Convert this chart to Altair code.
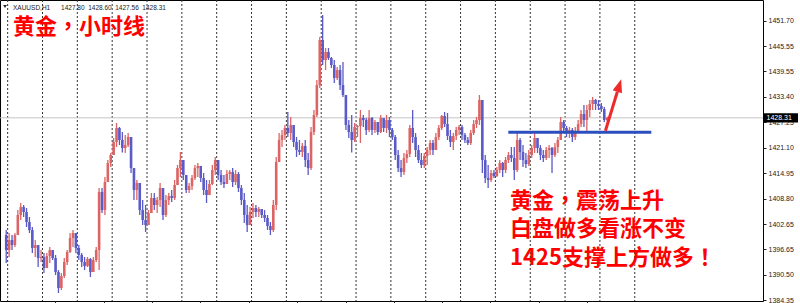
import altair as alt
import pandas as pd

# ---------------- data ----------------
symbol = "XAUUSD,H1"
first_bar = -1
first_open = 1400.09

highs = [
    1401.30, 1400.58, 1400.09, 1400.58, 1406.11, 1407.80, 1407.32, 1406.59, 1404.43, 1402.02,
    1398.89, 1396.48, 1396.48, 1395.76, 1395.76, 1397.20, 1396.48, 1395.28, 1391.66, 1390.94,
    1394.55, 1396.48, 1400.58, 1401.30, 1400.58, 1397.68, 1395.76, 1394.80, 1394.80, 1394.55,
    1394.80, 1397.20, 1411.41, 1411.41, 1414.06, 1418.15, 1419.84, 1423.45, 1427.06, 1426.10,
    1424.89, 1424.17, 1424.65, 1423.69, 1416.22, 1413.34, 1412.13, 1408.52, 1407.32, 1406.11,
    1410.21, 1410.21, 1409.24, 1412.62, 1411.41, 1409.72, 1410.21, 1410.93, 1413.34, 1416.95,
    1420.08, 1418.15, 1414.54, 1412.62, 1414.54, 1416.95, 1417.43, 1416.47, 1415.02, 1413.34,
    1413.34, 1416.95, 1418.88, 1417.67, 1415.74, 1414.54, 1415.74, 1415.74, 1416.22, 1415.74,
    1415.26, 1412.13, 1410.21, 1407.32, 1406.84, 1407.80, 1407.32, 1406.84, 1406.35, 1406.11,
    1404.91, 1403.22, 1408.52, 1418.88, 1424.65, 1425.38, 1426.58, 1429.71, 1428.51, 1425.86,
    1423.69, 1422.97, 1422.25, 1422.97, 1419.84, 1426.10, 1430.19, 1437.42, 1447.77, 1453.07,
    1445.12, 1445.12, 1442.96, 1442.23, 1440.55, 1441.03, 1441.75, 1433.80, 1427.78, 1428.99,
    1427.06, 1426.58, 1430.19, 1428.99, 1428.27, 1430.19, 1428.51, 1427.78, 1427.30, 1428.99,
    1428.27, 1428.99, 1428.51, 1425.86, 1424.17, 1420.56, 1418.15, 1419.84, 1420.56, 1426.58,
    1430.19, 1424.65, 1421.76, 1419.84, 1419.84, 1421.28, 1422.97, 1422.97, 1424.65, 1426.58,
    1428.99, 1429.71, 1429.47, 1425.38, 1424.65, 1426.10, 1426.58, 1426.58, 1424.65, 1423.69,
    1425.38, 1427.78, 1428.51, 1433.80, 1432.60, 1419.36, 1416.95, 1415.74, 1415.74, 1416.47,
    1418.15, 1417.67, 1418.88, 1420.08, 1421.28, 1421.28, 1424.65, 1423.45, 1421.76, 1419.84,
    1420.56, 1421.76, 1424.65, 1423.45, 1421.76, 1420.56, 1421.28, 1421.76, 1421.28, 1422.25,
    1423.69, 1428.51, 1427.78, 1426.34, 1426.10, 1425.86, 1426.10, 1427.78, 1430.19, 1431.40,
    1431.40, 1432.60, 1433.32, 1432.84, 1432.60, 1431.88, 1430.91, 1428.60,
]
lows = [
    1393.35, 1394.80, 1396.48, 1397.20, 1400.09, 1403.70, 1404.43, 1402.02, 1400.58, 1395.76,
    1394.80, 1392.39, 1393.59, 1390.94, 1392.39, 1393.35, 1394.07, 1390.46, 1386.13, 1386.85,
    1389.74, 1392.87, 1395.76, 1397.20, 1395.76, 1394.07, 1392.39, 1391.66, 1392.39, 1389.98,
    1391.18, 1393.59, 1391.66, 1405.39, 1404.91, 1412.86, 1416.47, 1419.36, 1421.28, 1421.76,
    1419.96, 1419.84, 1421.28, 1415.02, 1408.52, 1408.52, 1404.91, 1402.50, 1400.82, 1402.50,
    1405.39, 1406.11, 1405.39, 1406.84, 1403.70, 1404.43, 1407.32, 1408.04, 1408.52, 1412.13,
    1414.06, 1413.34, 1410.21, 1410.21, 1410.93, 1413.34, 1414.06, 1412.86, 1409.72, 1407.80,
    1409.72, 1412.13, 1414.54, 1413.34, 1412.13, 1411.41, 1412.62, 1413.34, 1411.65, 1412.13,
    1410.45, 1407.32, 1402.98, 1400.82, 1402.50, 1404.19, 1404.43, 1404.43, 1404.19, 1403.22,
    1401.30, 1400.09, 1400.82, 1406.11, 1417.67, 1421.28, 1422.97, 1423.69, 1422.97, 1421.28,
    1418.88, 1419.36, 1418.88, 1416.47, 1414.54, 1415.74, 1424.17, 1428.51, 1435.49, 1441.03,
    1439.82, 1442.23, 1440.30, 1436.69, 1437.42, 1435.01, 1433.32, 1425.38, 1423.45, 1419.96,
    1422.49, 1423.69, 1422.25, 1426.10, 1424.17, 1424.89, 1424.17, 1424.65, 1424.17, 1424.65,
    1424.89, 1424.65, 1423.69, 1422.97, 1418.15, 1415.26, 1414.06, 1414.54, 1417.43, 1418.88,
    1422.25, 1418.88, 1417.43, 1416.22, 1416.22, 1416.95, 1419.36, 1419.36, 1420.56, 1422.97,
    1425.38, 1426.10, 1422.97, 1421.28, 1420.56, 1422.97, 1424.17, 1422.97, 1422.25, 1421.76,
    1421.76, 1424.17, 1425.86, 1426.58, 1415.02, 1412.62, 1411.41, 1412.86, 1413.82, 1414.06,
    1415.02, 1414.06, 1415.02, 1417.43, 1417.67, 1413.34, 1415.26, 1418.15, 1416.47, 1416.22,
    1416.71, 1418.63, 1419.84, 1419.84, 1418.15, 1417.67, 1418.15, 1418.63, 1415.02, 1418.88,
    1419.84, 1422.97, 1424.65, 1423.69, 1423.45, 1422.49, 1422.97, 1424.65, 1426.10, 1426.10,
    1424.65, 1428.51, 1430.19, 1430.19, 1430.19, 1429.71, 1427.30, 1427.56,
]
closes = [
    1396.48, 1398.89, 1397.68, 1400.09, 1404.91, 1406.84, 1405.63, 1403.22, 1401.30, 1396.96,
    1397.68, 1394.55, 1394.80, 1392.14, 1395.04, 1396.48, 1394.55, 1391.18, 1387.33, 1390.22,
    1393.59, 1396.00, 1399.37, 1400.58, 1396.96, 1395.28, 1393.59, 1392.63, 1394.31, 1391.18,
    1394.07, 1396.48, 1410.45, 1406.11, 1412.86, 1417.43, 1419.36, 1422.49, 1425.86, 1422.97,
    1421.04, 1421.76, 1423.69, 1416.22, 1410.93, 1412.62, 1406.11, 1403.70, 1402.50, 1405.39,
    1409.00, 1407.32, 1408.52, 1411.41, 1404.91, 1408.52, 1409.48, 1409.00, 1412.13, 1416.22,
    1418.15, 1414.54, 1410.93, 1411.89, 1413.82, 1416.22, 1416.71, 1413.82, 1410.93, 1409.72,
    1412.38, 1415.74, 1418.15, 1414.54, 1412.86, 1412.38, 1414.78, 1415.26, 1412.86, 1414.78,
    1411.41, 1408.52, 1404.91, 1402.50, 1405.63, 1406.59, 1405.63, 1406.35, 1404.91, 1404.19,
    1402.26, 1401.30, 1407.32, 1417.67, 1422.97, 1424.17, 1425.86, 1424.65, 1426.58, 1422.49,
    1420.56, 1420.08, 1421.52, 1418.15, 1416.22, 1424.89, 1428.99, 1436.21, 1447.05, 1442.23,
    1444.16, 1442.71, 1441.03, 1437.90, 1439.82, 1436.21, 1433.80, 1426.58, 1424.89, 1422.97,
    1426.10, 1426.34, 1428.27, 1427.78, 1425.38, 1428.27, 1425.38, 1427.30, 1424.89, 1428.27,
    1425.86, 1427.78, 1425.38, 1423.69, 1419.36, 1416.22, 1415.26, 1418.63, 1419.60, 1425.86,
    1423.69, 1420.56, 1418.15, 1416.95, 1419.12, 1420.56, 1422.25, 1420.56, 1423.69, 1425.86,
    1428.75, 1426.82, 1423.93, 1422.49, 1423.93, 1425.38, 1426.10, 1424.17, 1422.97, 1422.25,
    1424.65, 1426.82, 1427.78, 1432.60, 1418.15, 1413.82, 1413.34, 1415.02, 1414.30, 1415.74,
    1417.43, 1415.74, 1418.15, 1419.36, 1418.63, 1415.74, 1422.97, 1420.08, 1418.15, 1417.19,
    1419.36, 1421.04, 1423.45, 1421.04, 1419.36, 1418.63, 1420.56, 1421.04, 1419.36, 1421.28,
    1422.97, 1427.30, 1425.86, 1424.65, 1425.38, 1423.69, 1425.14, 1426.82, 1429.23, 1427.78,
    1430.19, 1431.64, 1432.60, 1431.64, 1431.16, 1430.43, 1427.80, 1428.31,
]

day_separators = [-0.5, 11.5, 23.5, 35.5, 47.5, 59.5, 71.5, 83.5, 95.5, 107.5,
                  119.5, 131.5, 143.5, 155.5, 167.5, 179.5, 191.5, 203.5, 215.5]
time_ticks = [15.9, 32.6, 49.2, 65.9, 82.5, 99.2, 115.9, 132.5, 149.2, 165.8, 182.5, 199.1]
price_ticks = [1451.70, 1445.55, 1439.55, 1433.40, 1427.25, 1421.10,
               1414.95, 1408.80, 1402.65, 1396.65, 1390.50, 1384.35]

support_price = 1424.82
support_from, support_to = 171.95, 221.2
arrow_tail = (205.4, 1425.2)
arrow_base = (209.5, 1434.6)
arrow_head = (210.16, 1436.09)

title_text = "黄金，小时线"
note_lines = ["黄金，震荡上升", "白盘做多看涨不变", "1425支撑上方做多！"]

# ---------------- build ----------------
opens = [first_open] + closes[:-1]
idx = list(range(first_bar, first_bar + len(closes)))
df = pd.DataFrame({"i": idx, "open": opens, "high": highs, "low": lows, "close": closes})
last_price = closes[-1]

UP = "#dc6464"
DOWN = "#5a5ac8"
RED = "#ff0000"
ARROW = "#ee2b2b"
CJK = "Noto Sans CJK TC"

xscale = alt.Scale(domain=[-1.418, 257.95], nice=False, zero=False)
yscale = alt.Scale(domain=[1384.21, 1456.68], nice=False, zero=False)
xaxis = alt.Axis(orient="bottom", values=time_ticks, labels=False, tickSize=2,
                 domain=False, grid=False, title=None, tickColor="#333")
yaxis = alt.Axis(orient="right", values=price_ticks, format=".2f", labelFont="Liberation Sans",
                 labelFontSize=7, labelColor="#222", tickSize=3, tickColor="#222",
                 labelPadding=2, domain=False, grid=False, title=None, labelOverlap=False)


def X(f):
    return alt.X(f, type="quantitative", scale=xscale, axis=xaxis)


def Y(f):
    return alt.Y(f, type="quantitative", scale=yscale, axis=yaxis)


color = alt.condition("datum.close >= datum.open", alt.value(UP), alt.value(DOWN))

sep = alt.Chart(pd.DataFrame({"i": day_separators})).mark_rule(
    color="#333", strokeDash=[2, 2], strokeWidth=1).encode(x=X("i"))

price_line = alt.Chart(pd.DataFrame({"p": [last_price]})).mark_rule(
    color="#c4c4c4", strokeWidth=1).encode(y=Y("p"))

wicks = alt.Chart(df).mark_rule(strokeWidth=1.3).encode(
    x=X("i"), y=Y("low"), y2="high", color=color)
bodies = alt.Chart(df).mark_bar(size=2.6).encode(
    x=X("i"), y=Y("open"), y2="close", color=color)

support = alt.Chart(pd.DataFrame({"a": [support_from], "b": [support_to], "p": [support_price]})).mark_rule(
    color="#2b4fbf", strokeWidth=3).encode(x=X("a"), x2="b", y=Y("p"))

shaft = alt.Chart(pd.DataFrame({"x0": [arrow_tail[0]], "x1": [arrow_base[0]],
                                "y0": [arrow_tail[1]], "y1": [arrow_base[1]]})).mark_rule(
    color=ARROW, strokeWidth=3).encode(x=X("x0"), x2="x1", y=Y("y0"), y2="y1")
head = alt.Chart(pd.DataFrame({"x": [arrow_head[0]], "y": [arrow_head[1]]})).mark_point(
    shape="M0,-1L0.75,1L-0.75,1Z", size=169, angle=17.3, filled=True, opacity=1,
    color=ARROW).encode(x=X("x"), y=Y("y"))

title = alt.Chart(pd.DataFrame({"t": [title_text]})).mark_text(
    align="left", baseline="middle", font=CJK, fontSize=22, fontWeight="bold", color=RED
).encode(text="t:N", x=alt.value(13), y=alt.value(27))

notes = []
for k, line in enumerate(note_lines):
    notes.append(alt.Chart(pd.DataFrame({"t": [line]})).mark_text(
        align="left", baseline="middle", font=CJK, fontSize=22, fontWeight="bold", color=RED
    ).encode(text="t:N", x=alt.value(510), y=alt.value(201 + 28.3 * k)))

# header line: symbol, then O H L C of the last bar (non-breaking spaces keep the gaps)
NB = "\u00a0"
header_text = (symbol + NB * 6 + (NB * 2).join(
    f"{v:.2f}" for v in (opens[-1], highs[-1], lows[-1], closes[-1])))
header = alt.Chart(pd.DataFrame({"t": [header_text]})).mark_text(
    align="left", baseline="middle", font="Liberation Sans", fontSize=6.5, color="#222"
).encode(text="t:N", x=alt.value(13), y=alt.value(7.5))
tri = alt.Chart(pd.DataFrame({"t": [0]})).mark_point(
    shape="triangle-down", size=14, filled=True, color="#222", opacity=1
).encode(x=alt.value(5), y=alt.value(6.5))

box = alt.Chart(pd.DataFrame({"top": [last_price + 1.1], "bot": [last_price - 1.1]})).mark_rect(
    color="#000").encode(x=alt.value(764), x2=alt.value(798), y=Y("top"), y2="bot")
box_text = alt.Chart(pd.DataFrame({"p": [last_price]})).mark_text(
    align="left", baseline="middle", font="Liberation Sans", fontSize=7, color="#fff"
).encode(text=alt.Text("p:Q", format=".2f"), x=alt.value(766.5), y=Y("p"))

chart = alt.layer(
    sep, price_line, wicks, bodies, support, shaft, head, title, *notes, header, tri, box, box_text
).properties(
    width=763, height=301,
    autosize=alt.AutoSizeParams(type="none"),
    padding={"left": 0, "top": 0, "right": 37, "bottom": 2},
    background="white",
).configure_view(stroke="#000", strokeWidth=1)

chart.save("out.html", embed_options={"renderer": "svg", "actions": False})
